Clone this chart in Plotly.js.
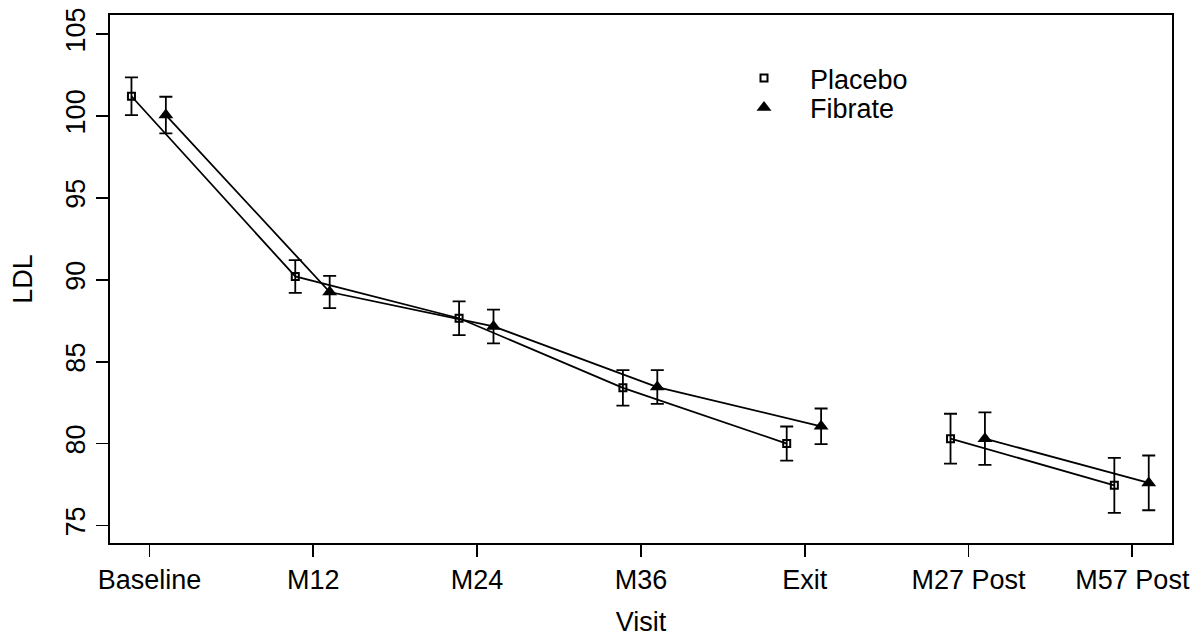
<!DOCTYPE html>
<html>
<head>
<meta charset="utf-8">
<script src="https://cdn.plot.ly/plotly-3.0.1.min.js"></script>
<style>
  html, body { margin: 0; padding: 0; background: #ffffff; }
  #chart { width: 1201px; height: 637px; }
</style>
</head>
<body>
<div id="chart"></div>
<script>
// ---- data ----
const visits = ["Baseline", "M12", "M24", "M36", "Exit", "M27 Post", "M57 Post"];
const placeboMean = [101.2, 90.2, 87.65, 83.4, 80.0, 80.3, 77.45];
const placeboErr  = [1.15, 1.0, 1.03, 1.08, 1.04, 1.52, 1.68];
const fibrateMean = [100.05, 89.25, 87.15, 83.45, 81.05, 80.3, 77.6];
const fibrateErr  = [1.12, 0.98, 1.03, 1.03, 1.09, 1.6, 1.67];
// visits joined by a line (the post-study visits form a separate segment)
const segments = [["Baseline", "M12", "M24", "M36", "Exit"], ["M27 Post", "M57 Post"]];
const yTicks = [75, 80, 85, 90, 95, 100, 105];

// ---- layout constants ----
const FONT = "Liberation Sans, Arial, Helvetica, sans-serif";
const FS = 27;
const placeboShift = -0.11;
const fibrateShift = 0.10;

const pos = visits.map((v, i) => i + 1);

function segmentXY(means, shift) {
  const xs = [], ys = [];
  segments.forEach((seg, k) => {
    if (k > 0) { xs.push(null); ys.push(null); }
    seg.forEach(v => {
      const i = visits.indexOf(v);
      xs.push(pos[i] + shift);
      ys.push(means[i]);
    });
  });
  return {xs, ys};
}

const pl = segmentXY(placeboMean, placeboShift);
const fl = segmentXY(fibrateMean, fibrateShift);

const traces = [
  {
    x: pl.xs, y: pl.ys, mode: "lines", connectgaps: false,
    line: {color: "#000", width: 1.8}, showlegend: false, hoverinfo: "skip"
  },
  {
    x: fl.xs, y: fl.ys, mode: "lines", connectgaps: false,
    line: {color: "#000", width: 1.8}, showlegend: false, hoverinfo: "skip"
  },
  {
    name: "Placebo", legend: "legend",
    x: pos.map(p => p + placeboShift), y: placeboMean, mode: "markers",
    marker: {symbol: "square-open", size: 7, color: "#000", line: {color: "#000", width: 2}},
    error_y: {type: "data", array: placeboErr, visible: true, color: "#000", thickness: 1.8, width: 6.5}
  },
  {
    name: "Fibrate", legend: "legend2",
    x: pos.map(p => p + fibrateShift), y: fibrateMean, mode: "markers",
    marker: {symbol: "triangle-up", size: 13, color: "#000"},
    error_y: {type: "data", array: fibrateErr, visible: true, color: "#000", thickness: 1.8, width: 6.5}
  }
];

const L = 110, R = 29, T = 15, B = 94;
const W = 1201, H = 637;
const pw = W - L - R, ph = H - T - B;
function px2paperX(px) { return (px - L) / pw; }
function px2paperY(py) { return (H - B - py) / ph; }

const legendCommon = {
  font: {family: FONT, size: FS, color: "#000"},
  bgcolor: "rgba(0,0,0,0)", borderwidth: 0,
  itemwidth: 82, xanchor: "left", yanchor: "middle",
  itemclick: false, itemdoubleclick: false
};

const layout = {
  width: W, height: H,
  margin: {l: L, r: R, t: T, b: B, pad: 0},
  paper_bgcolor: "#fff", plot_bgcolor: "#fff",
  font: {family: FONT, size: FS, color: "#000"},
  showlegend: true,
  legend: Object.assign({}, legendCommon, {x: px2paperX(718), y: px2paperY(78.5)}),
  legend2: Object.assign({}, legendCommon, {x: px2paperX(718), y: px2paperY(108)}),
  xaxis: {
    range: [0.759, 7.242], tickmode: "array", tickvals: pos, ticktext: visits,
    showgrid: false, zeroline: false,
    showline: true, mirror: true, linecolor: "#000", linewidth: 2,
    ticks: "outside", ticklen: 12, tickwidth: 1.8, tickcolor: "#000",
    tickfont: {family: FONT, size: FS, color: "#000"},
    title: {text: "Visit", font: {family: FONT, size: FS, color: "#000"}}
  },
  yaxis: {
    range: [73.93, 106.16], tickmode: "array", tickvals: yTicks,
    ticktext: yTicks.map(String), tickangle: -90,
    showgrid: false, zeroline: false,
    showline: true, mirror: true, linecolor: "#000", linewidth: 2,
    ticks: "outside", ticklen: 12, tickwidth: 1.8, tickcolor: "#000",
    tickfont: {family: FONT, size: FS, color: "#000"},
    title: {text: "LDL", standoff: 21, font: {family: FONT, size: FS, color: "#000"}}
  }
};

Plotly.newPlot("chart", traces, layout, {displayModeBar: false, staticPlot: true});
</script>
</body>
</html>
